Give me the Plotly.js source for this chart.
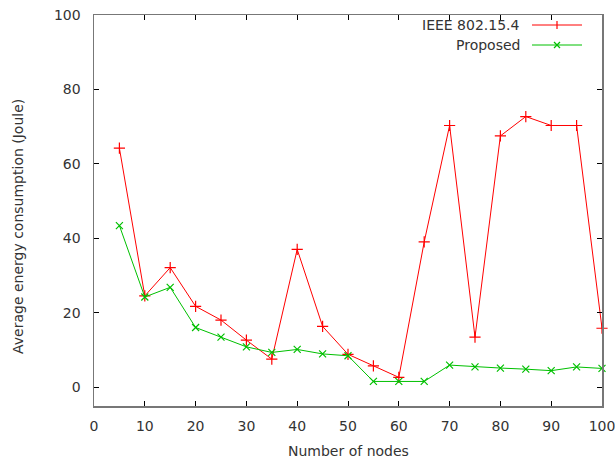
<!DOCTYPE html>
<html>
<head>
<meta charset="utf-8">
<script src="https://cdn.plot.ly/plotly-3.0.1.min.js"></script>
<style>html,body{margin:0;padding:0;background:#fff;}#chart{width:615px;height:463px;}</style>
</head>
<body>
<div id="chart"></div>
<script>
var nodes = [5,10,15,20,25,30,35,40,45,50,55,60,65,70,75,80,85,90,95,100];
var ieee = [64.2,24.5,32.1,21.7,18.0,12.6,7.5,37.0,16.3,8.8,5.7,2.6,39.0,70.3,13.4,67.5,72.7,70.3,70.3,15.8];
var proposed = [43.4,24.2,26.8,16.0,13.4,10.8,9.3,10.1,8.9,8.4,1.5,1.5,1.5,5.9,5.4,5.1,4.8,4.4,5.4,5.0];
var seriesNames = ['IEEE 802.15.4','Proposed'];
var xTicks = [0,10,20,30,40,50,60,70,80,90,100];
var yTicks = [0,20,40,60,80,100];
var xTitle = 'Number of nodes';
var yTitle = 'Average energy consumption (Joule)';

var red = '#ff0000', green = '#00c000';
var font = {family: 'DejaVu Sans, sans-serif', size: 14, color: '#333333'};

var traces = [
  {x: nodes, y: ieee, name: seriesNames[0], type: 'scatter', mode: 'lines+markers', cliponaxis: false,
   line: {color: red, width: 1}, marker: {symbol: 'cross-thin-open', size: 8, line: {color: red, width: 1.2}}, showlegend: false},
  {x: nodes, y: proposed, name: seriesNames[1], type: 'scatter', mode: 'lines+markers', cliponaxis: false,
   line: {color: green, width: 1}, marker: {symbol: 'x-thin-open', size: 7, line: {color: green, width: 1.2}}, showlegend: false}
];

var W = 615, H = 463, L = 94, R = 13, T = 15, B = 57;
var pw = W - L - R, ph = H - T - B;
function px(x){ return (x - L) / pw; }
function py(y){ return 1 - (y - T) / ph; }
var legendRows = [{y: 25, color: red, sym: '+'}, {y: 45, color: green, sym: 'x'}];
var shapes = [], annotations = [];
legendRows.forEach(function(r, i){
  annotations.push({xref: 'paper', yref: 'paper', x: px(522), y: py(r.y), xanchor: 'right', yanchor: 'middle',
    text: seriesNames[i], showarrow: false, font: font});
  shapes.push({type: 'line', xref: 'paper', yref: 'paper', x0: px(532), x1: px(582), y0: py(r.y), y1: py(r.y), line: {color: r.color, width: 1}});
  var cx = 557, cy = r.y, s = 4;
  if (r.sym === '+') {
    shapes.push({type: 'line', xref: 'paper', yref: 'paper', x0: px(cx), x1: px(cx), y0: py(cy - s), y1: py(cy + s), line: {color: r.color, width: 1.2}});
  } else {
    shapes.push({type: 'line', xref: 'paper', yref: 'paper', x0: px(cx - 3), x1: px(cx + 3), y0: py(cy - 3), y1: py(cy + 3), line: {color: r.color, width: 1.2}});
    shapes.push({type: 'line', xref: 'paper', yref: 'paper', x0: px(cx - 3), x1: px(cx + 3), y0: py(cy + 3), y1: py(cy - 3), line: {color: r.color, width: 1.2}});
  }
});
annotations.push({xref: 'paper', yref: 'paper', x: px(348), y: py(451), xanchor: 'center', yanchor: 'middle',
  text: xTitle, showarrow: false, font: font});
annotations.push({xref: 'paper', yref: 'paper', x: px(18), y: py(227), xanchor: 'center', yanchor: 'middle',
  text: yTitle, textangle: -90, showarrow: false, font: font});

var layout = {
  width: W, height: H,
  margin: {l: L, r: R, t: T, b: B, pad: 0},
  paper_bgcolor: '#fff', plot_bgcolor: '#fff',
  font: font,
  showlegend: false,
  xaxis: {range: [0, 100], tickvals: xTicks, ticktext: xTicks.map(String), ticks: 'inside', ticklen: 5, tickcolor: '#000', tickwidth: 1,
    showline: true, linecolor: '#777', linewidth: 1.5, mirror: 'ticks', showgrid: false, zeroline: false,
    ticklabeloverflow: 'allow', ticklabelstandoff: 7, tickfont: font},
  yaxis: {range: [-5.1, 100], tickvals: yTicks, ticktext: yTicks.map(String), ticks: 'inside', ticklen: 5, tickcolor: '#000', tickwidth: 1,
    showline: true, linecolor: '#777', linewidth: 1.5, mirror: 'ticks', showgrid: false, zeroline: false,
    ticklabeloverflow: 'allow', ticklabelstandoff: 9, tickfont: font},
  shapes: shapes,
  annotations: annotations
};

Plotly.newPlot('chart', traces, layout, {displayModeBar: false, staticPlot: true});
</script>
</body>
</html>
